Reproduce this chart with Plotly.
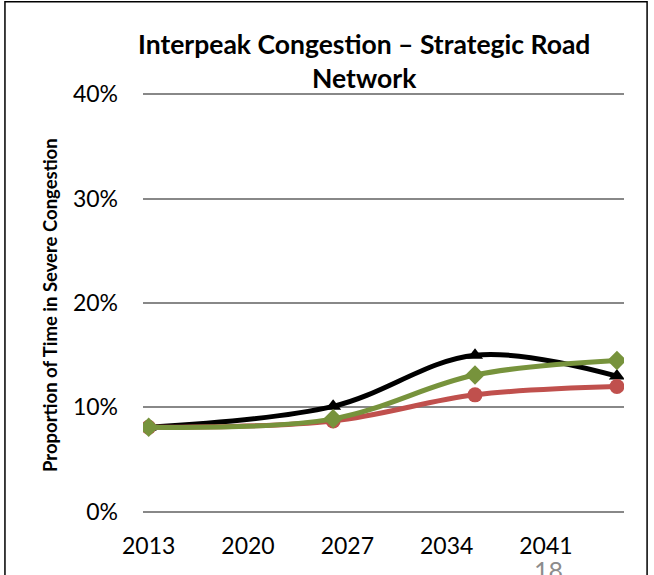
import plotly.graph_objects as go

years = [2013, 2026, 2036, 2046]
black_vals = [0.081, 0.101, 0.150, 0.130]
green_vals = [0.081, 0.089, 0.131, 0.145]
red_vals = [0.081, 0.087, 0.112, 0.120]

x_ticks = [2013, 2020, 2027, 2034, 2041]
y_ticks = [0, 0.1, 0.2, 0.3, 0.4]
y_tick_text = ["0%", "10%", "20%", "30%", "40%"]

FONT = "Lato"

fig = go.Figure()
fig.add_trace(go.Scatter(x=years, y=black_vals, mode="lines+markers",
                         line=dict(color="#000000", width=5, shape="spline", smoothing=1.0),
                         marker=dict(symbol="triangle-up", size=14, color="#000000"),
                         showlegend=False))
fig.add_trace(go.Scatter(x=years, y=red_vals, mode="lines+markers",
                         line=dict(color="#C0504D", width=5, shape="spline", smoothing=1.0),
                         marker=dict(symbol="circle", size=15, color="#C0504D"),
                         showlegend=False))
fig.add_trace(go.Scatter(x=years, y=green_vals, mode="lines+markers",
                         line=dict(color="#77933C", width=5, shape="spline", smoothing=1.0),
                         marker=dict(symbol="diamond", size=15, color="#77933C"),
                         showlegend=False))

fig.update_layout(
    width=654, height=575,
    margin=dict(l=143, r=30, t=93, b=62),
    paper_bgcolor="white", plot_bgcolor="white",
    font=dict(family=FONT, color="#000000"),
    xaxis=dict(range=[2012.6, 2046.5], tickvals=x_ticks, ticktext=[str(v) for v in x_ticks],
               showgrid=False, zeroline=False, showline=False, ticks="",
               tickfont=dict(size=23, family=FONT), ticklabelstandoff=17),
    yaxis=dict(range=[-0.0012, 0.4012], tickvals=y_ticks, ticktext=y_tick_text,
               showgrid=True, gridcolor="#888888", gridwidth=1.5, zeroline=False,
               showline=False, ticks="", tickfont=dict(size=23, family=FONT),
               ticklabelstandoff=24),
    shapes=[dict(type="rect", xref="paper", yref="paper", x0=-0.287, x1=1.048,
                 y0=-0.2, y1=1.217, line=dict(color="#000000", width=1.5),
                 fillcolor="rgba(0,0,0,0)", layer="below")],
    annotations=[
        dict(text="<b>Interpeak Congestion – Strategic Road<br>Network</b>",
             xref="paper", yref="paper", x=(364 - 143) / 481, y=(513 - 61) / 420,
             xanchor="center", yanchor="middle", showarrow=False,
             font=dict(size=26.5, family=FONT), align="center"),
        dict(text="<b>Proportion of Time in Severe Congestion</b>",
             xref="paper", yref="paper", x=(50 - 143) / 481, y=(513 - 305) / 420,
             xanchor="center", yanchor="middle", showarrow=False, textangle=-90,
             font=dict(size=18.5, family=FONT)),
        dict(text="18", xref="paper", yref="paper", x=(548 - 143) / 481,
             y=(513 - 570) / 420, xanchor="center", yanchor="middle", showarrow=False,
             font=dict(size=25, family=FONT, color="#8c8c8c")),
    ],
)

fig.write_html("out.html", config={"displayModeBar": False},
               post_script="document.body.style.margin='0';")
